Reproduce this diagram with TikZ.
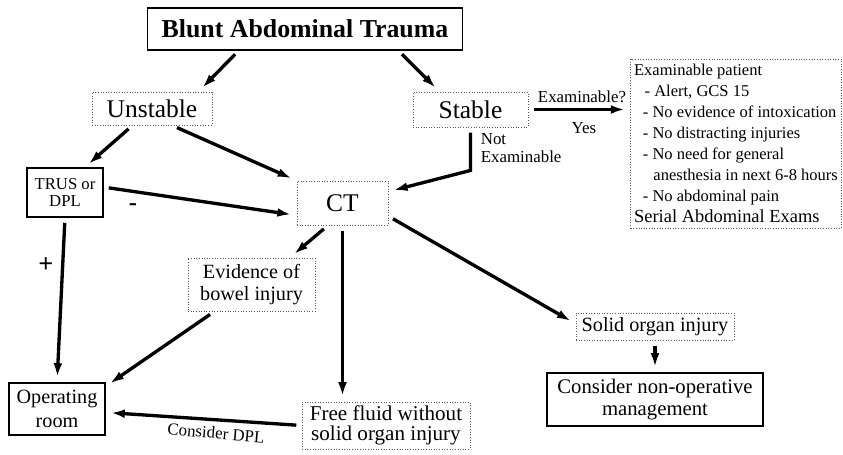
\documentclass[tikz,border=0pt]{standalone}
\usepackage{fontspec}
\setmainfont{Liberation Serif}
\usetikzlibrary{arrows.meta}

\begin{document}
\begin{tikzpicture}[
  x=0.02cm, y=-0.02cm,
  every node/.style={align=center, inner sep=2pt},
  boxS/.style={rectangle, draw=black, line width=0.6pt, fill=white},
  boxD/.style={rectangle, draw=black!65, line width=0.5pt, densely dotted, fill=white},
  txtL/.style={font=\fontsize{14.5}{16}\selectfont},
  txtM/.style={font=\fontsize{11.5}{12.5}\selectfont},
  txtS/.style={font=\fontsize{9.6}{10.5}\selectfont},
  flow/.style={-{Latex[length=8pt,width=5pt]}, line width=1.9pt,
               shorten <=3pt, shorten >=3pt}
]
\useasboundingbox (0,0) rectangle (843,454);

% TOP: TRIAGE
\node[boxS, minimum width=6.32cm, minimum height=0.84cm,
      font=\fontsize{14.7}{16}\selectfont\bfseries] (trauma) at (305,29) {Blunt Abdominal Trauma};
\node[boxD, txtL, minimum width=2.4cm, minimum height=0.66cm] (unstable) at (152,108.5) {Unstable};
\node[boxD, txtL, minimum width=2.3cm, minimum height=0.7cm] (stable) at (470.5,109.5) {Stable};
\node[boxD, minimum width=4.12cm, minimum height=3.38cm, align=left,
      font=\fontsize{9.4}{11.9}\selectfont] (exam) at (736,143.5)
  {Examinable patient\\
   \hspace*{6pt}- Alert, GCS 15\\
   \hspace*{5pt}- No evidence of intoxication\\
   \hspace*{5pt}- No distracting injuries\\
   \hspace*{5pt}- No need for general\\
   \hspace*{11pt}anesthesia in next 6-8 hours\\
   \hspace*{5pt}- No abdominal pain\\
   {\fontsize{10.5}{12}\selectfont Serial Abdominal Exams}};

% MIDDLE: WORK-UP
\node[boxS, minimum width=1.52cm, minimum height=0.98cm,
      font=\fontsize{9.5}{9.5}\selectfont] (trus) at (65,192.5) {TRUS or\\DPL};
\node[boxD, txtL, minimum width=1.82cm, minimum height=0.88cm] (ct) at (342.5,203) {CT};
\node[boxD, txtM, minimum width=2.54cm, minimum height=1.06cm] (bowel) at (251.5,284.5) {Evidence of\\bowel injury};
\node[boxD, txtM, minimum width=3.16cm, minimum height=0.54cm] (solid) at (655,326.5) {Solid organ injury};

% BOTTOM: OUTCOMES
\node[boxS, minimum width=1.92cm, minimum height=1.04cm,
      font=\fontsize{11.5}{13.5}\selectfont] (orroom) at (57,409) {Operating\\room};
\node[boxD, minimum width=3.36cm, minimum height=0.94cm,
      font=\fontsize{12}{11.5}\selectfont] (fluid) at (386,425.5) {Free fluid without\\solid organ injury};
\node[boxS, minimum width=4.32cm, minimum height=1.06cm,
      font=\fontsize{11.8}{13}\selectfont] (nonop) at (655,399.5) {Consider non-operative\\management};

% connectors
\draw[flow] (trauma.198) -- (unstable.20);
\draw[flow] (trauma.-13) -- (stable.150);
\draw[flow] (unstable.221) -- (trus.52);
\draw[flow] (unstable.-40) -- (ct.north west);
\draw[flow] (trus.8) -- (ct.195);
\draw[flow] (trus.south) -- (orroom.north);
\draw[flow] (stable.east) -- (stable.east -| exam.west);
\draw[flow] (stable.south) -- ++(0,43) -- (ct.14);
\draw[flow] (ct.237) -- (bowel.35);
\draw[flow] (ct.south) -- (ct.south |- fluid.north);
\draw[flow] (ct.-16) -- (solid.178);
\draw[flow] (solid.south) -- (nonop.north);
\draw[flow] (bowel.216) -- (orroom.25);
\draw[flow] (fluid.west) -- (orroom.-4);

% labels
\node[font=\fontsize{14}{14}\selectfont\bfseries] (minus) at (133,207) {-};
\node[font=\fontsize{15}{15}\selectfont\bfseries] (plus) at (46,265) {+};
\node[txtS] (examq) at (582,97) {Examinable?};
\node[txtS] (yes) at (584,128) {Yes};
\node[txtS, align=left, anchor=west] (notexam) at (477,148) {Not\\Examinable};
\node[txtS, rotate=-5] (considerdpl) at (216,433) {Consider DPL};
\end{tikzpicture}
\end{document}
